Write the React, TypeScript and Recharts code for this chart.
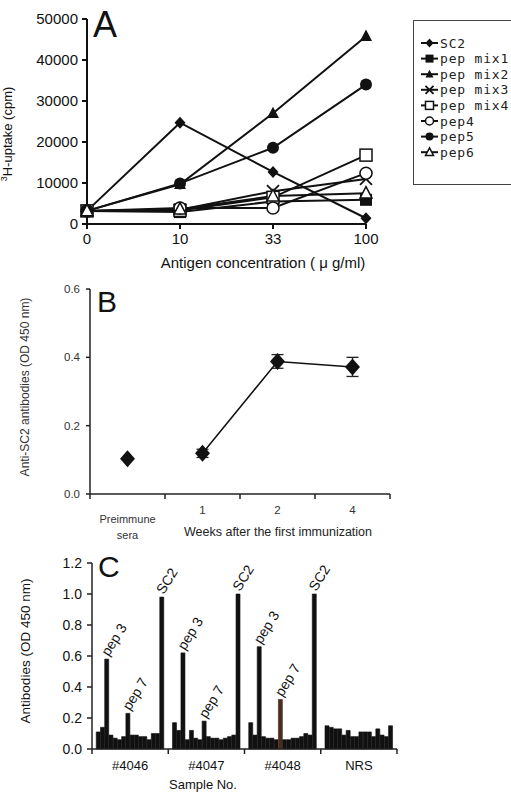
import React from 'react';
import {
  LineChart, Line, XAxis, YAxis, Legend, ComposedChart, BarChart, Bar, Cell,
  LabelList, ErrorBar, Customized,
} from 'recharts';

// ---------- Panel A data ----------
const concentrations = ['0', '10', '33', '100'];
const sc2Uptake = [3200, 24700, 12700, 1400];
const pepMix1Uptake = [3200, 2900, 5500, 5900];
const pepMix2Uptake = [3200, 9700, 27000, 45800];
const pepMix3Uptake = [3200, 3500, 8000, 11000];
const pepMix4Uptake = [3200, 3300, 6500, 16800];
const pep4Uptake = [3200, 3900, 3900, 12400];
const pep5Uptake = [3200, 9900, 18600, 34000];
const pep6Uptake = [3200, 3600, 6800, 7500];
const uptakeTicks = [0, 10000, 20000, 30000, 40000, 50000];

// ---------- Panel B data ----------
const bCategories = ['Preimmune\nsera', '1', '2', '4'];
const preimmuneOD = [0.103];
const weeksOD = [0.119, 0.388, 0.372];
const weeksErr = [0.012, 0.02, 0.028];
const odTicksB = [0, 0.2, 0.4, 0.6];

// ---------- Panel C data ----------
const groupNames = ['#4046', '#4047', '#4048', 'NRS'];
const od4046 = [0.11, 0.14, 0.58, 0.09, 0.07, 0.06, 0.08, 0.23, 0.09, 0.09, 0.08, 0.08, 0.06, 0.10, 0.10, 0.98];
const od4047 = [0.17, 0.12, 0.62, 0.06, 0.12, 0.07, 0.06, 0.18, 0.08, 0.07, 0.07, 0.06, 0.07, 0.08, 0.09, 1.0];
const od4048 = [0.17, 0.09, 0.66, 0.08, 0.07, 0.07, 0.06, 0.32, 0.06, 0.06, 0.07, 0.07, 0.08, 0.10, 0.09, 1.0];
const odNRS = [0.15, 0.14, 0.13, 0.13, 0.09, 0.12, 0.08, 0.08, 0.11, 0.11, 0.11, 0.08, 0.13, 0.09, 0.08, 0.15];
const peakTags = ['', '', 'pep 3', '', '', '', '', 'pep 7', '', '', '', '', '', '', '', 'SC2'];
const taggedGroups = [true, true, true, false];
const odTicksC = [0, 0.2, 0.4, 0.6, 0.8, 1.0, 1.2];

const FONT = '"Liberation Sans", Arial, sans-serif';
const INK = '#111';

type Shape = 'diamond' | 'square' | 'triangle' | 'cross' | 'openSquare' | 'openCircle' | 'circle' | 'openTriangle';

const seriesA: { key: string; name: string; values: number[]; shape: Shape }[] = [
  { key: 'sc2', name: 'SC2', values: sc2Uptake, shape: 'diamond' },
  { key: 'mix1', name: 'pep mix1', values: pepMix1Uptake, shape: 'square' },
  { key: 'mix2', name: 'pep mix2', values: pepMix2Uptake, shape: 'triangle' },
  { key: 'mix3', name: 'pep mix3', values: pepMix3Uptake, shape: 'cross' },
  { key: 'mix4', name: 'pep mix4', values: pepMix4Uptake, shape: 'openSquare' },
  { key: 'pep4', name: 'pep4', values: pep4Uptake, shape: 'openCircle' },
  { key: 'pep5', name: 'pep5', values: pep5Uptake, shape: 'circle' },
  { key: 'pep6', name: 'pep6', values: pep6Uptake, shape: 'openTriangle' },
];

const dataA = concentrations.map((c, i) => {
  const row: any = { conc: c };
  seriesA.forEach((s) => { row[s.key] = s.values[i]; });
  return row;
});

const dataPre = [{ x: 0.5, od: preimmuneOD[0] }];
const dataWeeks = weeksOD.map((v, i) => ({ x: i + 1.5, od: v, err: weeksErr[i] }));
const bTicks = [0, 0.5, 1, 1.5, 2, 2.5, 3, 3.5, 4];

const SLOTS = 18;
const groupsC = [od4046, od4047, od4048, odNRS];
const dataC: any[] = [];
groupsC.forEach((vals, gi) => {
  dataC.push({ slot: `${gi}-a`, od: null, tag: '', g: gi, b: -1 });
  vals.forEach((v, bi) => {
    dataC.push({ slot: `${gi}-${bi}`, od: v, tag: taggedGroups[gi] ? peakTags[bi] : '', g: gi, b: bi });
  });
  dataC.push({ slot: `${gi}-z`, od: null, tag: '', g: gi, b: -1 });
});

const C_LEFT = 92;
const C_RIGHT_MARGIN = 114;
const C_WIDTH = 511;
const SLOT_W = (C_WIDTH - C_RIGHT_MARGIN - C_LEFT) / dataC.length;

function Marker({ cx, cy, shape, size }: { cx: number; cy: number; shape: Shape; size: number }) {
  const s = size / 2;
  switch (shape) {
    case 'diamond':
      return <polygon points={`${cx},${cy - s * 1.1} ${cx + s},${cy} ${cx},${cy + s * 1.1} ${cx - s},${cy}`} fill={INK} />;
    case 'square':
      return <rect x={cx - s} y={cy - s} width={size} height={size} fill={INK} />;
    case 'triangle':
      return <polygon points={`${cx},${cy - s * 1.1} ${cx + s},${cy + s * 0.8} ${cx - s},${cy + s * 0.8}`} fill={INK} />;
    case 'openTriangle':
      return <polygon points={`${cx},${cy - s * 1.1} ${cx + s},${cy + s * 0.8} ${cx - s},${cy + s * 0.8}`} fill="#fff" stroke={INK} strokeWidth={1.5} />;
    case 'cross':
      return (
        <g stroke={INK} strokeWidth={1.8}>
          <line x1={cx - s} y1={cy - s} x2={cx + s} y2={cy + s} />
          <line x1={cx - s} y1={cy + s} x2={cx + s} y2={cy - s} />
        </g>
      );
    case 'openSquare':
      return <rect x={cx - s} y={cy - s} width={size} height={size} fill="#fff" stroke={INK} strokeWidth={1.5} />;
    case 'openCircle':
      return <circle cx={cx} cy={cy} r={s} fill="#fff" stroke={INK} strokeWidth={1.5} />;
    case 'circle':
    default:
      return <circle cx={cx} cy={cy} r={s} fill={INK} />;
  }
}

const renderLegendA = (props: any) => {
  const payload: any[] = props && props.payload ? props.payload : [];
  const found = payload.map((p) => seriesA.find((s) => s.name === p.value)).filter(Boolean) as typeof seriesA;
  const items = found.length ? found : seriesA;
  return (
    <svg width={100} height={166} style={{ display: 'block' }}>
      <rect x={0.5} y={0.5} width={99} height={164} fill="#fff" stroke="#444" strokeWidth={1} />
      {items.map((s, i) => {
        const y = 23 + i * 15.6;
        return (
          <g key={s.key}>
            <line x1={8} x2={25} y1={y} y2={y} stroke={INK} strokeWidth={2} />
            <Marker cx={16.5} cy={y} shape={s.shape} size={8} />
            <text x={27} y={y + 4.5} fontSize={13} fontFamily='"DejaVu Sans Mono", monospace' letterSpacing={0.8} fill="#222">{s.name}</text>
          </g>
        );
      })}
    </svg>
  );
};

const BTick = (p: any) => {
  const { x, y, payload } = p;
  const v = payload.value as number;
  if (Number.isInteger(v)) {
    return <line x1={x} x2={x} y1={y} y2={y + 5} stroke="#222" strokeWidth={1.5} />;
  }
  const lines = bCategories[Math.floor(v)].split('\n');
  const first = lines.length > 1 ? 29 : 20;
  return (
    <text x={x} y={y + first} textAnchor="middle" fontSize={lines.length > 1 ? 11 : 11.5} fill="#333" fontFamily={FONT}>
      {lines.map((l, i) => (
        <tspan key={i} x={x} dy={i === 0 ? 0 : 16}>{l}</tspan>
      ))}
    </text>
  );
};

const CTick = (p: any) => {
  const { x, y } = p;
  const index = p.index ?? (p.payload && p.payload.index) ?? 0;
  const pos = index % SLOTS;
  const g = Math.floor(index / SLOTS);
  const left = x - SLOT_W / 2;
  return (
    <g>
      {pos === 0 && <line x1={left} x2={left} y1={y} y2={y + 5} stroke="#222" strokeWidth={1.5} />}
      {index === dataC.length - 1 && <line x1={x + SLOT_W / 2} x2={x + SLOT_W / 2} y1={y} y2={y + 5} stroke="#222" strokeWidth={1.5} />}
      {pos === SLOTS / 2 && (
        <text x={left} y={y + 21} textAnchor="middle" fontSize={13} fill={INK} fontFamily={FONT}>{groupNames[g]}</text>
      )}
    </g>
  );
};

const renderPeakLabel = (p: any) => {
  const { x, y, width, value } = p;
  if (!value) return null;
  const tx = Number(x) + Number(width) / 2 + 2;
  const ty = Number(y) - 2;
  return (
    <text transform={`translate(${tx},${ty}) rotate(-58)`} fontSize={14} fill={INK} fontFamily={FONT}>{value}</text>
  );
};

const TitlesA = () => (
  <g fontFamily={FONT} fill={INK}>
    <text x={93} y={37} fontSize={36}>A</text>
    <text transform="translate(12,134) rotate(-90)" textAnchor="middle" fontSize={13}>
      <tspan baselineShift="super" fontSize={9}>3</tspan>H-uptake (cpm)
    </text>
    <text x={263} y={268} textAnchor="middle" fontSize={15}>Antigen concentration ( μ g/ml)</text>
  </g>
);

const TitlesB = () => (
  <g fontFamily={FONT}>
    <text x={97} y={42} fontSize={30} fill={INK}>B</text>
    <text transform="translate(29,117) rotate(-90)" textAnchor="middle" fontSize={12} fill="#333">Anti-SC2 antibodies (OD 450 nm)</text>
    <text x={278} y={266} textAnchor="middle" fontSize={12.5} fill="#222">Weeks after the first immunization</text>
  </g>
);

const TitlesC = () => (
  <g fontFamily={FONT} fill={INK}>
    <text x={98} y={47} fontSize={30}>C</text>
    <text transform="translate(30,121) rotate(-90)" textAnchor="middle" fontSize={13.5}>Antibodies (OD 450 nm)</text>
    <text x={203} y={259} textAnchor="middle" fontSize={13}>Sample No.</text>
  </g>
);

const diamondDot = (w: number, h: number) => (p: any) => {
  const { cx, cy, index } = p;
  if (cx == null || cy == null) return <g key={`d-${index}`} />;
  return <polygon key={`d-${index}`} points={`${cx},${cy - h} ${cx + w},${cy} ${cx},${cy + h} ${cx - w},${cy}`} fill={INK} />;
};

export default function App() {
  return (
    <div style={{ position: 'absolute', left: 0, top: 0, width: 511, height: 792, background: '#fff', fontFamily: FONT, overflow: 'hidden' }}>
      <div style={{ position: 'absolute', left: 0, top: 0 }}>
        <LineChart width={511} height={275} data={dataA} margin={{ top: 19, right: 145, left: 0, bottom: 0 }}>
          <XAxis dataKey="conc" scale="point" padding={{ left: 0, right: 0 }} height={51}
            tick={{ fontSize: 15, fill: INK, fontFamily: FONT }} tickSize={5} tickMargin={4}
            axisLine={{ stroke: INK, strokeWidth: 2 }} tickLine={{ stroke: INK, strokeWidth: 2 }} />
          <YAxis width={87} domain={[0, 50000]} ticks={uptakeTicks} interval={0}
            tick={{ fontSize: 15, fill: INK, fontFamily: FONT }} tickSize={5} tickMargin={4}
            axisLine={{ stroke: INK, strokeWidth: 2 }} tickLine={{ stroke: INK, strokeWidth: 2 }} />
          {seriesA.map((s) => (
            <Line key={s.key} dataKey={s.key} name={s.name} stroke={INK} strokeWidth={2}
              isAnimationActive={false} legendType="line"
              dot={(p: any) => (p.cx == null ? <g key={`${s.key}-${p.index}`} /> : (
                <g key={`${s.key}-${p.index}`}><Marker cx={p.cx} cy={p.cy} shape={s.shape} size={s.shape === 'diamond' ? 11 : 12} /></g>
              ))}
              activeDot={false} />
          ))}
          <Legend layout="vertical" align="center" verticalAlign="middle" content={renderLegendA}
            wrapperStyle={{ position: 'absolute', left: 413, top: 20, width: 100, height: 166 }} />
          <Customized component={TitlesA} />
        </LineChart>
      </div>

      <div style={{ position: 'absolute', left: 0, top: 270 }}>
        <ComposedChart width={511} height={275} margin={{ top: 19, right: 121, left: 0, bottom: 0 }}>
          <XAxis type="number" dataKey="x" domain={[0, 4]} ticks={bTicks} interval={0} allowDataOverflow
            tickSize={0} tickMargin={0} tickLine={false} tick={(p: any) => <BTick {...p} />}
            axisLine={{ stroke: '#222', strokeWidth: 1.5 }} height={51} />
          <YAxis width={90} domain={[0, 0.6]} ticks={odTicksB} interval={0}
            tickFormatter={(v: number) => v.toFixed(1)}
            tick={{ fontSize: 11.5, fill: '#333', fontFamily: FONT }} tickSize={4} tickMargin={6}
            axisLine={{ stroke: '#222', strokeWidth: 1.5 }} tickLine={{ stroke: '#222', strokeWidth: 1.5 }} />
          <Line data={dataPre} dataKey="od" stroke={INK} strokeWidth={1.5} isAnimationActive={false}
            dot={diamondDot(7.5, 8.5)} activeDot={false} />
          <Line data={dataWeeks} dataKey="od" stroke={INK} strokeWidth={1.5} isAnimationActive={false}
            dot={diamondDot(7.5, 8.5)} activeDot={false}>
            <ErrorBar dataKey="err" width={6} stroke="#222" strokeWidth={1.3} direction="y" />
          </Line>
          <Customized component={TitlesB} />
        </ComposedChart>
      </div>

      <div style={{ position: 'absolute', left: 0, top: 530 }}>
        <BarChart width={C_WIDTH} height={262} data={dataC} margin={{ top: 33, right: C_RIGHT_MARGIN, left: 0, bottom: 0 }}
          barCategoryGap={0} barGap={0}>
          <XAxis dataKey="slot" interval={0} tickSize={0} tickMargin={0} tickLine={false}
            tick={(p: any) => <CTick {...p} />} axisLine={{ stroke: '#222', strokeWidth: 1.5 }} height={43} />
          <YAxis width={C_LEFT} domain={[0, 1.2]} ticks={odTicksC} interval={0}
            tickFormatter={(v: number) => v.toFixed(1)}
            tick={{ fontSize: 14, fill: INK, fontFamily: FONT }} tickSize={5} tickMargin={5}
            axisLine={{ stroke: '#222', strokeWidth: 1.5 }} tickLine={{ stroke: '#222', strokeWidth: 1.5 }} />
          <Bar dataKey="od" fill={INK} isAnimationActive={false}>
            {dataC.map((d, i) => {
              const c = d.g === 2 && d.b === 7 ? '#4a2c20' : INK;
              return <Cell key={i} fill={c} stroke={c} strokeWidth={0.6} />;
            })}
            <LabelList dataKey="tag" content={renderPeakLabel} />
          </Bar>
          <Customized component={TitlesC} />
        </BarChart>
      </div>
    </div>
  );
}
